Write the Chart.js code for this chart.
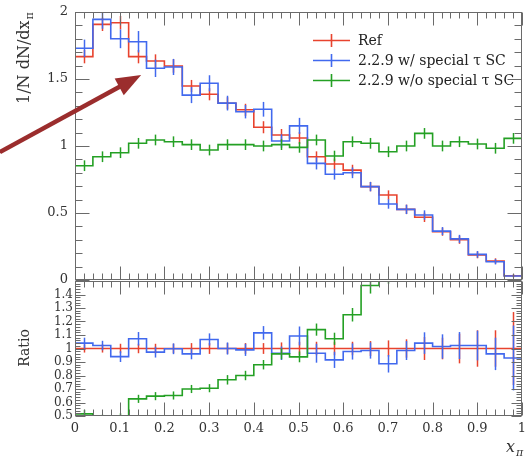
<!DOCTYPE html>
<html>
<head>
<meta charset="utf-8">
<script src="https://cdn.jsdelivr.net/npm/chart.js@4.4.1/dist/chart.umd.min.js"></script>
<style>
  html, body { margin: 0; padding: 0; background: #fff; }
  #wrap { position: relative; width: 525px; height: 456px; overflow: hidden; }
  canvas { position: absolute; left: 0; }
  #main { top: 0; }
  #ratio { top: 280px; }
</style>
</head>
<body>
<div id="wrap">
  <canvas id="main" width="525" height="295"></canvas>
  <canvas id="ratio" width="525" height="176"></canvas>
</div>
<script>
// --- Data ---
const edges = [0, 0.04, 0.08, 0.12, 0.16, 0.2, 0.24, 0.28, 0.32, 0.36, 0.4, 0.44, 0.48,
  0.52, 0.56, 0.6, 0.64, 0.68, 0.72, 0.76, 0.8, 0.84, 0.88, 0.92, 0.96, 1];
const names = ['Ref', '2.2.9 w/ special τ SC', '2.2.9 w/o special τ SC'];
const colors = ['#e8432e', '#4169ee', '#24a024'];

const refVals = [1.667, 1.908, 1.92, 1.667, 1.634, 1.597, 1.448, 1.386, 1.319, 1.27, 1.14, 1.082, 1.06,
  0.92, 0.866, 0.82, 0.697, 0.634, 0.527, 0.468, 0.36, 0.30, 0.187, 0.142, 0.032];
const refErr = [0.05, 0.05, 0.05, 0.05, 0.05, 0.05, 0.045, 0.045, 0.045, 0.045, 0.045, 0.045, 0.045,
  0.04, 0.04, 0.04, 0.035, 0.035, 0.035, 0.035, 0.03, 0.03, 0.025, 0.02, 0.01];
const wVals = [1.729, 1.945, 1.80, 1.778, 1.58, 1.59, 1.38, 1.468, 1.32, 1.256, 1.274, 1.037, 1.15,
  0.87, 0.789, 0.80, 0.697, 0.567, 0.527, 0.485, 0.365, 0.307, 0.191, 0.136, 0.03];
const wErr = [0.065, 0.07, 0.07, 0.08, 0.065, 0.06, 0.06, 0.06, 0.055, 0.05, 0.055, 0.05, 0.06,
  0.045, 0.04, 0.04, 0.035, 0.035, 0.035, 0.035, 0.03, 0.03, 0.025, 0.02, 0.01];
const woVals = [0.853, 0.92, 0.95, 1.02, 1.045, 1.032, 1.01, 0.97, 1.01, 1.01, 1.0, 1.01, 0.99,
  1.045, 0.925, 1.032, 1.02, 0.957, 1.0, 1.094, 1.0, 1.032, 1.015, 0.983, 1.057];
const woErr = [0.04, 0.04, 0.04, 0.04, 0.04, 0.04, 0.04, 0.04, 0.04, 0.04, 0.04, 0.04, 0.04,
  0.04, 0.04, 0.04, 0.04, 0.04, 0.04, 0.04, 0.04, 0.04, 0.04, 0.04, 0.04];

const refRatio = [1, 1, 1, 1, 1, 1, 1, 1, 1, 1, 1, 1, 1, 1, 1, 1, 1, 1, 1, 1, 1, 1, 1, 1, 1];
const refRatioErr = [0.03, 0.03, 0.035, 0.035, 0.035, 0.035, 0.04, 0.04, 0.04, 0.04, 0.04, 0.045, 0.05,
  0.05, 0.05, 0.05, 0.055, 0.06, 0.068, 0.085, 0.08, 0.11, 0.135, 0.135, 0.27];
const wRatio = [1.04, 1.022, 0.94, 1.072, 0.973, 0.998, 0.96, 1.067, 1.0, 0.99, 1.116, 0.965, 1.093,
  0.965, 0.916, 0.978, 0.985, 0.887, 0.985, 1.04, 1.015, 1.022, 1.022, 0.96, 0.93];
const wRatioErr = [0.04, 0.035, 0.04, 0.05, 0.04, 0.04, 0.04, 0.045, 0.045, 0.045, 0.05, 0.05, 0.07,
  0.07, 0.06, 0.06, 0.06, 0.065, 0.07, 0.08, 0.09, 0.1, 0.11, 0.12, 0.24];
const woRatio = [0.516, 0.48, 0.49, 0.627, 0.647, 0.652, 0.70, 0.706, 0.768, 0.80, 0.88, 0.96, 0.938,
  1.14, 1.072, 1.25, 1.467, 1.55, 1.9, 2.3, 2.8, 3.4, 5.4, 6.9, 9.0];
const woRatioErr = [0.03, 0.03, 0.03, 0.03, 0.03, 0.03, 0.03, 0.03, 0.035, 0.035, 0.035, 0.04, 0.04,
  0.045, 0.045, 0.05, 0.06, 0.07, 0.08, 0.1, 0.1, 0.1, 0.1, 0.1, 0.1];

// arrow annotation, in data units of the main panel
const arrowFrom = [-0.168, 0.955];
const arrowTo = [0.148, 1.53];

Chart.defaults.font.family = "'DejaVu Serif', serif";
Chart.defaults.color = '#333';

const fmt = v => String(Math.round(v * 100) / 100);

// histogram as step line through bin edges
function steps(vals) {
  const pts = vals.map((v, i) => ({x: edges[i], y: v}));
  pts.push({x: edges[edges.length - 1], y: vals[vals.length - 1]});
  return pts;
}

function hist(i, vals, errs, order) {
  return {label: names[i], data: steps(vals), vals, errs, order,
    borderColor: colors[i], borderWidth: 1.6, pointRadius: 0, stepped: true, fill: false};
}

// --- Plugins ---
const errorBars = {
  id: 'errorBars',
  afterDatasetsDraw(chart) {
    const {ctx, chartArea: a, scales: {x, y}} = chart;
    ctx.save();
    ctx.beginPath();
    ctx.rect(a.left, a.top, a.right - a.left, a.bottom - a.top);
    ctx.clip();
    chart.data.datasets.forEach(ds => {
      ctx.strokeStyle = ds.borderColor;
      ctx.lineWidth = 1.5;
      ds.vals.forEach((v, i) => {
        const px = Math.round(x.getPixelForValue((edges[i] + edges[i + 1]) / 2)) + 0.5;
        ctx.beginPath();
        ctx.moveTo(px, y.getPixelForValue(v - ds.errs[i]));
        ctx.lineTo(px, y.getPixelForValue(v + ds.errs[i]));
        ctx.stroke();
      });
    });
    ctx.restore();
  }
};

function framePlugin(yMin, yMax, yStep, majorEvery, yMaj, yMin2) {
  return {
    id: 'frame',
    afterDraw(chart) {
      const {ctx, chartArea: a, scales: {x, y}} = chart;
      ctx.save();
      ctx.strokeStyle = '#6a6a6a';
      ctx.lineWidth = 1;
      const L = Math.round(a.left) + 0.5, R = Math.round(a.right) - 0.5;
      const T = Math.round(a.top) + 0.5, B = Math.round(a.bottom) - 0.5;
      ctx.strokeRect(L, T, R - L, B - T);
      ctx.beginPath();
      for (let k = 0; k <= 50; k++) {
        const px = Math.round(x.getPixelForValue(k / 50)) + 0.5;
        const len = k % 5 === 0 ? 13 : 6;
        ctx.moveTo(px, T); ctx.lineTo(px, T + len);
        ctx.moveTo(px, B); ctx.lineTo(px, B - len);
      }
      const n = Math.round((yMax - yMin) / yStep);
      for (let k = 0; k <= n; k++) {
        const py = Math.round(y.getPixelForValue(yMin + k * yStep)) + 0.5;
        const len = k % majorEvery === 0 ? yMaj : yMin2;
        ctx.moveTo(L, py); ctx.lineTo(L + len, py);
        ctx.moveTo(R, py); ctx.lineTo(R - len, py);
      }
      ctx.stroke();
      ctx.restore();
    }
  };
}

const mainDecor = {
  id: 'mainDecor',
  afterDraw(chart) {
    const {ctx, scales: {x, y}} = chart;
    ctx.save();
    // legend
    ctx.font = "14px 'DejaVu Serif'";
    ctx.textBaseline = 'middle';
    [40, 60, 80].forEach((ly, i) => {
      ctx.strokeStyle = colors[i];
      ctx.lineWidth = 1.6;
      ctx.beginPath();
      ctx.moveTo(313, ly + 0.5); ctx.lineTo(350, ly + 0.5);
      ctx.moveTo(331.5, ly - 6); ctx.lineTo(331.5, ly + 7);
      ctx.stroke();
      ctx.fillStyle = '#222';
      ctx.fillText(names[i], 358, ly + 1);
    });
    // y title
    ctx.save();
    ctx.translate(29, 104);
    ctx.rotate(-Math.PI / 2);
    ctx.textBaseline = 'alphabetic';
    ctx.font = "16px 'DejaVu Serif'";
    ctx.fillStyle = '#333';
    const t = '1/N dN/dx';
    ctx.fillText(t, 0, 0);
    const w = ctx.measureText(t).width;
    ctx.font = "11px 'DejaVu Serif'";
    ctx.fillText('π', w + 1, 4);
    ctx.restore();
    // arrow
    const x0 = x.getPixelForValue(arrowFrom[0]), y0 = y.getPixelForValue(arrowFrom[1]);
    const x1 = x.getPixelForValue(arrowTo[0]), y1 = y.getPixelForValue(arrowTo[1]);
    const ang = Math.atan2(y1 - y0, x1 - x0);
    const hl = 25, hw = 9.5;
    const bx = x1 - hl * Math.cos(ang), by = y1 - hl * Math.sin(ang);
    ctx.strokeStyle = '#9b2d2d';
    ctx.fillStyle = '#9b2d2d';
    ctx.lineWidth = 4.5;
    ctx.beginPath();
    ctx.moveTo(x0, y0); ctx.lineTo(bx + 2 * Math.cos(ang), by + 2 * Math.sin(ang));
    ctx.stroke();
    ctx.beginPath();
    ctx.moveTo(x1, y1);
    ctx.lineTo(bx + hw * Math.sin(ang), by - hw * Math.cos(ang));
    ctx.lineTo(bx - hw * Math.sin(ang), by + hw * Math.cos(ang));
    ctx.closePath();
    ctx.fill();
    ctx.restore();
  }
};

const ratioDecor = {
  id: 'ratioDecor',
  afterDraw(chart) {
    const {ctx} = chart;
    ctx.save();
    ctx.fillStyle = '#333';
    // "Ratio" title (canvas starts at page y 280)
    ctx.save();
    ctx.translate(25, 68);
    ctx.rotate(-Math.PI / 2);
    ctx.font = "14px 'DejaVu Serif'";
    ctx.textAlign = 'center';
    ctx.textBaseline = 'middle';
    ctx.fillText('Ratio', 0, 0);
    ctx.restore();
    // x title
    ctx.font = "italic 16px 'DejaVu Serif'";
    ctx.fillText('x', 506, 172);
    ctx.font = "italic 11px 'DejaVu Serif'";
    ctx.fillText('π', 516, 176);
    ctx.restore();
  }
};

// --- Charts ---
new Chart(document.getElementById('main'), {
  type: 'line',
  data: {datasets: [
    hist(0, refVals, refErr, 2),
    hist(1, wVals, wErr, 1),
    hist(2, woVals, woErr, 0)
  ]},
  options: {
    responsive: false, animation: false,
    layout: {padding: {left: 0, right: 3, top: 12, bottom: 15}},
    plugins: {legend: {display: false}, tooltip: {enabled: false}},
    scales: {
      x: {type: 'linear', min: 0, max: 1, display: false},
      y: {min: 0, max: 2,
        ticks: {stepSize: 0.5, padding: 7, font: {size: 13}, autoSkip: false, callback: v => fmt(v)},
        grid: {display: false, drawTicks: false}, border: {display: false},
        afterFit(s) { s.width = 75; s.paddingTop = 0; s.paddingBottom = 0; }}
    }
  },
  plugins: [errorBars, framePlugin(0, 2, 0.1, 5, 14, 7), mainDecor]
});

new Chart(document.getElementById('ratio'), {
  type: 'line',
  data: {datasets: [
    hist(0, refRatio, refRatioErr, 2),
    hist(1, wRatio, wRatioErr, 1),
    hist(2, woRatio, woRatioErr, 0)
  ]},
  options: {
    responsive: false, animation: false,
    layout: {padding: {left: 0, right: 3, top: 1, bottom: 0}},
    plugins: {legend: {display: false}, tooltip: {enabled: false}},
    scales: {
      x: {type: 'linear', min: 0, max: 1,
        ticks: {stepSize: 0.1, padding: 5, font: {size: 13}, autoSkip: false, maxRotation: 0, callback: v => fmt(v)},
        grid: {display: false, drawTicks: false}, border: {display: false},
        afterFit(s) { s.height = 40; s.paddingLeft = 0; s.paddingRight = 0; }},
      y: {min: 0.5, max: 1.5,
        ticks: {stepSize: 0.1, padding: 2, font: {size: 12}, autoSkip: false, callback: v => v > 1.45 ? '' : fmt(v)},
        grid: {display: false, drawTicks: false}, border: {display: false},
        afterFit(s) { s.width = 75; s.paddingTop = 0; s.paddingBottom = 0; }}
    }
  },
  plugins: [errorBars, framePlugin(0.5, 1.5, 0.02, 5, 10, 5), ratioDecor]
});
</script>
</body>
</html>
